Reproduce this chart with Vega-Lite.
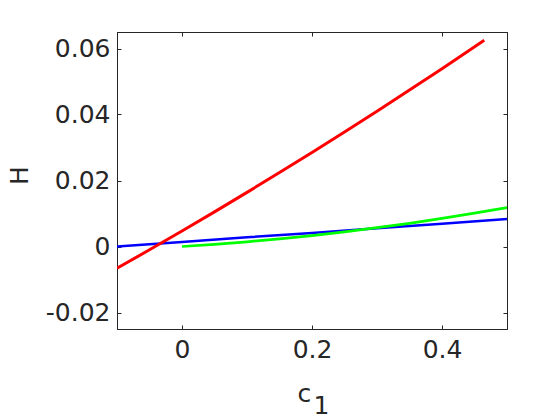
{
  "$schema": "https://vega.github.io/schema/vega-lite/v6.json",
  "width": 390,
  "height": 297,
  "autosize": {"type": "none"},
  "padding": {"left": 117, "top": 32, "right": 53, "bottom": 91},
  "background": "white",
  "config": {
    "view": {"stroke": "#262626", "strokeWidth": 1},
    "font": "DejaVu Sans",
    "axis": {
      "grid": false,
      "domainColor": "#262626",
      "tickColor": "#262626",
      "labelColor": "#262626",
      "titleColor": "#262626",
      "labelFont": "DejaVu Sans",
      "titleFont": "DejaVu Sans",
      "labelFontSize": 25,
      "titleFontSize": 25,
      "titleFontWeight": "normal",
      "tickSize": -4,
      "labelFlush": false,
      "labelOverlap": false
    }
  },
  "data": {
    "values": [
      {"s": "blue", "c": -0.1, "H": 0.0000},
      {"s": "blue", "c": 0.0, "H": 0.0014},
      {"s": "blue", "c": 0.1, "H": 0.0028},
      {"s": "blue", "c": 0.2, "H": 0.0041},
      {"s": "blue", "c": 0.3, "H": 0.0055},
      {"s": "blue", "c": 0.4, "H": 0.0069},
      {"s": "blue", "c": 0.5, "H": 0.0083},
      {"s": "green", "c": 0.0, "H": 0.0000},
      {"s": "green", "c": 0.05, "H": 0.00066},
      {"s": "green", "c": 0.1, "H": 0.00143},
      {"s": "green", "c": 0.15, "H": 0.0023},
      {"s": "green", "c": 0.2, "H": 0.0033},
      {"s": "green", "c": 0.25, "H": 0.0044},
      {"s": "green", "c": 0.3, "H": 0.0057},
      {"s": "green", "c": 0.35, "H": 0.0070},
      {"s": "green", "c": 0.4, "H": 0.0085},
      {"s": "green", "c": 0.45, "H": 0.0101},
      {"s": "green", "c": 0.5, "H": 0.0118},
      {"s": "red", "c": -0.1, "H": -0.0066},
      {"s": "red", "c": -0.05, "H": -0.0010},
      {"s": "red", "c": 0.0, "H": 0.0047},
      {"s": "red", "c": 0.05, "H": 0.0105},
      {"s": "red", "c": 0.1, "H": 0.0164},
      {"s": "red", "c": 0.15, "H": 0.0224},
      {"s": "red", "c": 0.2, "H": 0.0285},
      {"s": "red", "c": 0.25, "H": 0.0347},
      {"s": "red", "c": 0.3, "H": 0.0410},
      {"s": "red", "c": 0.35, "H": 0.0474},
      {"s": "red", "c": 0.4, "H": 0.0539},
      {"s": "red", "c": 0.465, "H": 0.0625}
    ]
  },
  "layer": [
    {
      "mark": {"type": "line", "clip": true},
      "encoding": {
        "x": {
          "field": "c", "type": "quantitative",
          "scale": {"domain": [-0.1, 0.5], "nice": false, "zero": false},
          "axis": {
            "orient": "bottom",
            "values": [0, 0.2, 0.4],
            "labelExpr": "datum.value + ''",
            "labelPadding": 12,
            "title": ["c", "\u200b\u00a0\u00a01"],
            "titleAlign": "left",
            "titleX": 180,
            "titleY": 72,
            "titleLineHeight": 12,
            "titleBaseline": "alphabetic"
          }
        },
        "y": {
          "field": "H", "type": "quantitative",
          "scale": {"domain": [-0.025, 0.065], "nice": false, "zero": false},
          "axis": {
            "orient": "left",
            "values": [-0.02, 0, 0.02, 0.04, 0.06],
            "labelExpr": "datum.value + ''",
            "labelPadding": 11,
            "title": "H",
            "titleX": -90,
            "titleY": 143,
            "titleBaseline": "alphabetic"
          }
        },
        "color": {
          "field": "s", "type": "nominal",
          "scale": {"domain": ["blue", "green", "red"], "range": ["#0000ff", "#00ff00", "#ff0000"]},
          "legend": null
        },
        "strokeWidth": {
          "field": "s", "type": "nominal",
          "scale": {"domain": ["blue", "green", "red"], "range": [2.5, 3, 2]},
          "legend": null
        }
      }
    },
    {
      "mark": {"type": "line", "opacity": 0},
      "encoding": {
        "x": {
          "field": "c", "type": "quantitative",
          "axis": {"orient": "top", "values": [0, 0.2, 0.4], "labels": false, "title": null}
        },
        "y": {
          "field": "H", "type": "quantitative",
          "axis": {"orient": "right", "values": [-0.02, 0, 0.02, 0.04, 0.06], "labels": false, "title": null}
        },
        "detail": {"field": "s"}
      }
    }
  ],
  "resolve": {"axis": {"x": "independent", "y": "independent"}}
}
